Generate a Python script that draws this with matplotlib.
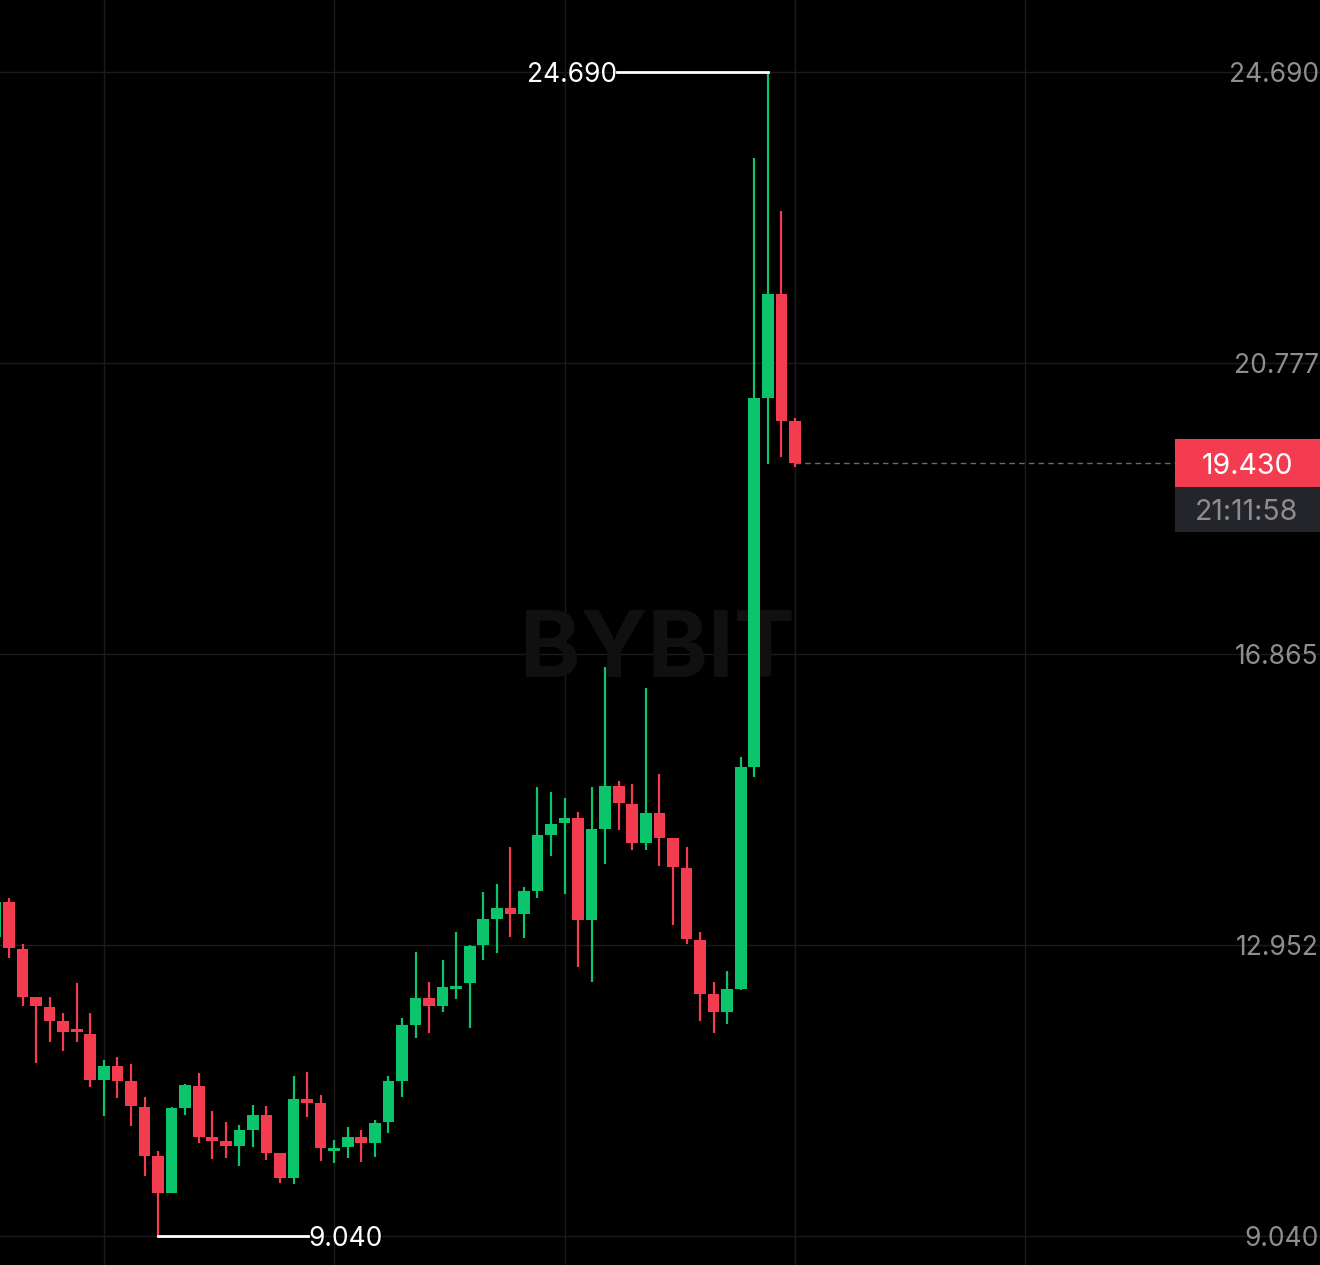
import matplotlib.pyplot as plt
from matplotlib.patches import Rectangle

# OHLC, oldest first (first one is cut by the left edge)
opens = [13.06, 13.531, 12.899, 12.253, 12.119, 11.931, 11.823, 11.756, 11.137, 11.326, 11.124,
         10.774, 10.116, 9.618, 10.761, 11.057, 10.371, 10.317, 10.250, 10.465, 10.667,
         10.156, 9.820, 10.882, 10.828, 10.183, 10.237, 10.371, 10.290, 10.573, 11.124,
         11.877, 12.240, 12.132, 12.361, 12.442, 12.953, 13.302, 13.450, 13.369, 13.679,
         14.431, 14.593, 14.660, 13.289, 14.512, 15.090, 14.848, 14.324, 14.727, 14.391,
         13.988, 13.020, 12.294, 12.052, 12.361, 15.346, 20.307, 21.705, 19.998]
highs = [13.56, 13.584, 12.966, 12.253, 12.253, 12.038, 12.442, 12.038, 11.406, 11.447, 11.353,
         10.909, 10.183, 10.774, 11.084, 11.232, 10.721, 10.573, 10.532, 10.801, 10.788,
         10.156, 11.191, 11.245, 10.936, 10.331, 10.506, 10.465, 10.600, 11.191, 11.971,
         12.858, 12.455, 12.751, 13.127, 12.953, 13.665, 13.773, 14.270, 13.732, 15.077,
         15.010, 14.929, 14.741, 15.077, 16.690, 15.158, 15.117, 16.408, 15.252, 14.391,
         14.270, 13.127, 12.455, 12.603, 15.480, 23.534, 24.690, 22.821, 20.038]
lows = [13.00, 12.778, 12.132, 11.366, 11.648, 11.527, 11.648, 11.043, 10.653, 10.895, 10.519,
        9.847, 9.040, 9.618, 10.667, 10.290, 10.075, 10.089, 9.981, 10.237, 10.062,
        9.753, 9.739, 10.640, 10.048, 10.022, 10.089, 10.035, 10.102, 10.425, 10.909,
        11.702, 11.769, 12.052, 12.226, 11.837, 12.751, 12.845, 13.060, 13.047, 13.584,
        14.149, 13.638, 12.657, 12.455, 14.042, 14.499, 14.230, 14.230, 14.015, 13.221,
        12.966, 11.931, 11.769, 11.890, 12.347, 15.211, 19.420, 19.514, 19.379]
closes = [13.531, 12.912, 12.253, 12.132, 11.931, 11.783, 11.783, 11.137, 11.326, 11.124, 10.788,
          10.116, 9.618, 10.761, 11.070, 10.371, 10.317, 10.250, 10.465, 10.667, 10.156,
          9.820, 10.882, 10.828, 10.223, 10.223, 10.371, 10.290, 10.559, 11.124, 11.877,
          12.240, 12.132, 12.388, 12.388, 12.939, 13.302, 13.450, 13.369, 13.679, 14.431,
          14.579, 14.660, 13.289, 14.512, 15.090, 14.862, 14.324, 14.727, 14.391, 14.001,
          13.033, 12.294, 12.052, 12.361, 15.346, 20.307, 21.705, 19.998, 19.430]

price_ticks = [9.040, 12.952, 16.865, 20.777, 24.690]
price_labels = ["9.040", "12.952", "16.865", "20.777", "24.690"]
last_price = 19.430
countdown = "21:11:58"
high_label = "24.690"
low_label = "9.040"

GREEN = "#0bc46c"
RED = "#f33c50"
BG = "#000000"
GRID = "#1b1b1b"
AXIS_TXT = "#8e8e8e"

plt.rcParams["font.family"] = ["Inter", "DejaVu Sans"]

fig = plt.figure(figsize=(13.2, 12.65), dpi=100, facecolor=BG)
ax = fig.add_axes([0, 0, 1, 1], facecolor=BG)

x0 = -1  # index of the cut-off first candle
xs = list(range(x0, x0 + len(opens)))
ax.set_xlim(-0.664, 96.75)
ax.set_ylim(8.650, 25.658)

# grid
for v in price_ticks:
    ax.axhline(v, color=GRID, lw=1.0, zorder=0)
for gx in [7, 24, 41, 58, 75]:
    ax.axvline(gx, color=GRID, lw=1.0, zorder=0)

# watermark
ax.text(0.498, 0.484, "BYBIT", transform=ax.transAxes, ha="center", va="center",
        fontsize=66, fontweight="bold", color="#101010", zorder=0.5)

# candles
for x, o, h, l, c in zip(xs, opens, highs, lows, closes):
    col = GREEN if c >= o else RED
    ax.vlines(x, l, h, color=col, lw=1.6, zorder=2)
    bottom = min(o, c)
    height = max(abs(c - o), 0.04)
    ax.bar(x, height, bottom=bottom, width=0.86, color=col, lw=0, zorder=3)

# high / low markers
hi_i = xs[highs.index(max(highs))]
lo_i = xs[lows.index(min(lows))]
ax.plot([hi_i - 11.1, hi_i], [max(highs)] * 2, color="white", lw=2, zorder=4)
ax.text(hi_i - 11.1, max(highs), high_label, color="white", fontsize=19,
        ha="right", va="center_baseline", zorder=5)
ax.plot([lo_i, lo_i + 11.1], [min(lows)] * 2, color="white", lw=2, zorder=4)
ax.text(lo_i + 11.1, min(lows), low_label, color="white", fontsize=19,
        ha="left", va="center_baseline", zorder=5)

# price scale labels
ytr = ax.get_yaxis_transform()
for v, lab in zip(price_ticks, price_labels):
    ax.text(0.999, v, lab, transform=ytr, ha="right", va="center_baseline",
            color=AXIS_TXT, fontsize=19, zorder=6)

# last price line and tags
ax.plot([xs[-1], 86.1], [last_price] * 2, color="#6a6a6a", lw=1.0,
        ls=(0, (4, 3)), zorder=1)
ax.add_patch(Rectangle((0.890, 19.110), 0.11, 0.646, transform=ytr,
                       facecolor=RED, edgecolor="none", zorder=7))
ax.add_patch(Rectangle((0.890, 18.505), 0.11, 0.605, transform=ytr,
                       facecolor="#24252a", edgecolor="none", zorder=7))
ax.text(0.9447, last_price, f"{last_price:.3f}", transform=ytr, ha="center",
        va="center_baseline", color="white", fontsize=20.5, zorder=8)
ax.text(0.9447, 18.81, countdown, transform=ytr, ha="center", va="center_baseline",
        color=AXIS_TXT, fontsize=20.5, zorder=8)

ax.axis("off")
fig.savefig("out.png", dpi=100, facecolor=BG)
